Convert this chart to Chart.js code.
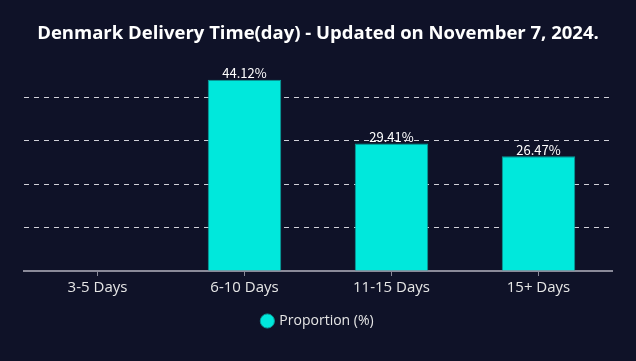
<!DOCTYPE html>
<html>
<head>
<meta charset="utf-8">
<script src="https://cdn.jsdelivr.net/npm/chart.js@4"></script>
<style>
    html, body { margin: 0; padding: 0; background: #0f1228; }
    #wrap { width: 636px; height: 361px; }
</style>
</head>
<body>
<div id="wrap"><canvas id="chart" width="636" height="361"></canvas></div>
<script>
var categories = ["3-5 Days", "6-10 Days", "11-15 Days", "15+ Days"];
var proportions = [null, 44.12, 29.41, 26.47];
var yTicks = [0, 10, 20, 30, 40, 50];

// value labels above each bar
var barLabels = {
    id: "barLabels",
    afterDatasetsDraw: function(chart) {
        var ctx = chart.ctx;
        var meta = chart.getDatasetMeta(0);
        ctx.save();
        ctx.fillStyle = "#ffffff";
        ctx.font = "13px 'Noto Sans CJK SC', sans-serif";
        ctx.textAlign = "center";
        ctx.textBaseline = "bottom";
        meta.data.forEach(function(bar, i) {
            var v = proportions[i];
            if (v == null) return;
            ctx.fillText(v.toFixed(2) + "%", bar.x, bar.y);
        });
        ctx.restore();
    }
};

var ctx = document.getElementById("chart").getContext("2d");
const barChart = new Chart(ctx, {
    type: "bar",
    plugins: [barLabels],
    data: {
        labels: categories,
        datasets: [{
            label: "Proportion (%)",
            data: proportions,
            backgroundColor: "#00e8dc",
            borderColor: "#0a9c98",
            borderWidth: 1,
            barPercentage: 0.5,
            categoryPercentage: 1
        }]
    },
    options: {
        responsive: false,
        animation: false,
        layout: {
            padding: { left: 24, right: 24, top: 0, bottom: 23 }
        },
        plugins: {
            title: {
                display: true,
                text: "Denmark Delivery Time(day) - Updated on November 7, 2024.",
                color: "#ffffff",
                font: { family: "'Open Sans', sans-serif", size: 18.5, weight: "bold" },
                padding: { top: 23, bottom: 9 }
            },
            legend: {
                position: "bottom",
                labels: {
                    color: "#e6e6e6",
                    usePointStyle: true,
                    pointStyle: "circle",
                    boxWidth: 10,
                    boxHeight: 10,
                    font: { family: "'Open Sans', sans-serif", size: 14 },
                    padding: 14
                }
            },
            tooltip: { enabled: false }
        },
        scales: {
            x: {
                grid: {
                    display: true,
                    offset: false,
                    drawOnChartArea: false,
                    drawTicks: true,
                    tickLength: 5,
                    color: "#8a8a99"
                },
                border: { display: true, color: "#8a8a99", width: 2 },
                ticks: {
                    color: "#e6e6e6",
                    font: { family: "'Open Sans', sans-serif", size: 15 },
                    padding: 3
                }
            },
            y: {
                min: yTicks[0],
                max: yTicks[yTicks.length - 1],
                afterBuildTicks: function(axis) {
                    axis.ticks = yTicks.map(function(v) { return { value: v }; });
                },
                ticks: { display: false },
                border: { display: false, dash: [5, 5] },
                grid: {
                    drawTicks: false,
                    lineWidth: 1,
                    color: function(c) {
                        if (c.tick.value == 0 || c.tick.value == 50) return "rgba(0,0,0,0)";
                        return "#d0d0d8";
                    }
                }
            }
        }
    }
});
</script>
</body>
</html>
